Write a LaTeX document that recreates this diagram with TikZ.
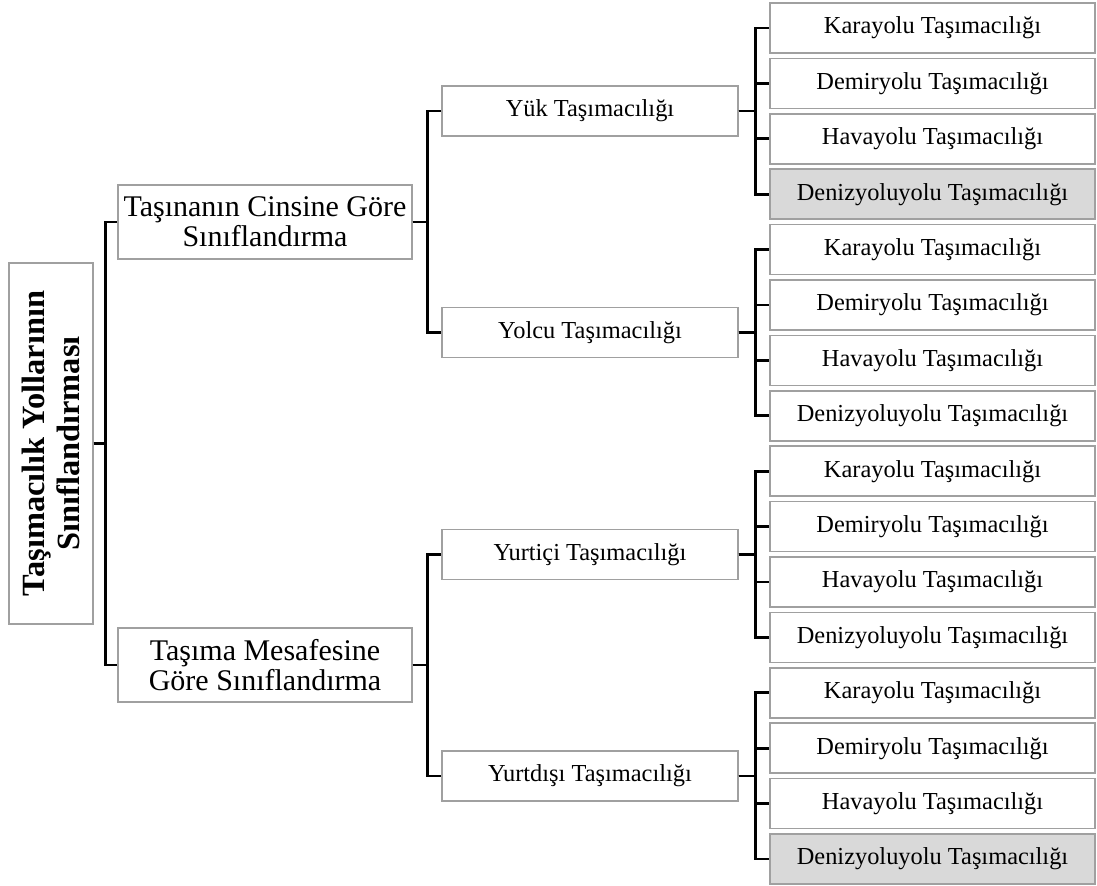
\documentclass[tikz,border=0pt]{standalone}
\usepackage{fontspec}
\setmainfont{Liberation Serif}
\definecolor{boxgray}{RGB}{160,160,160}
\definecolor{shade}{RGB}{217,217,217}
\begin{document}
\begin{tikzpicture}[x=0.75pt,y=-0.75pt,
  box/.style={draw=boxgray, line width=1.1pt, fill=white, inner sep=0pt, align=center},
  rootbox/.style={box, minimum width=63pt, minimum height=270.75pt},
  catbox/.style={box, minimum width=220.5pt, minimum height=55.5pt,
    font=\fontsize{22.5}{22.5}\selectfont},
  subbox/.style={box, minimum width=222pt, minimum height=37.5pt,
    font=\fontsize{18.3}{20}\selectfont},
  leaf/.style={box, minimum width=243.75pt, minimum height=37.5pt,
    font=\fontsize{18.3}{20}\selectfont},
  fill14/.style={fill=shade}, fill44/.style={fill=shade},
  link/.style={line width=2pt, black}]
\fill[white] (0,0) rectangle (1097,886);
\useasboundingbox (0,0) rectangle (1097,886);

% root
\node[rootbox] (root) at (51,443.5) {};
\node[rotate=90, align=center, font=\bfseries\fontsize{24.3}{26}\selectfont]
  (roottext) at (root.center) {Taşımacılık Yollarının\\Sınıflandırması};

% first level
\node[catbox] (c1) at (265,221.9) {Taşınanın Cinsine Göre\\Sınıflandırma};
\node[catbox] (c2) at (265,665.1) {Taşıma Mesafesine\\Göre Sınıflandırma};

% second level
\node[subbox] (g1) at (590,111.1) {Yük Taşımacılığı};
\node[subbox] (g2) at (590,332.7) {Yolcu Taşımacılığı};
\node[subbox] (g3) at (590,554.3) {Yurtiçi Taşımacılığı};
\node[subbox] (g4) at (590,775.9) {Yurtdışı Taşımacılığı};

% leaves
\foreach \k in {1,...,4}{
  \foreach \j/\t in {1/Karayolu,2/Demiryolu,3/Havayolu,4/Denizyoluyolu}{
    \pgfmathsetmacro\yy{28+55.4*(4*(\k-1)+\j-1)}
    \node[leaf, fill\k\j/.try] (l\k\j) at (932.5,\yy) {\t{} Taşımacılığı};
    \draw[link] (g\k.east) -- ++(17,0) |- (l\k\j.west);
  }
}

% connectors
\draw[link] (root.east) -- ++(12,0) |- (c1.west);
\draw[link] (root.east) -- ++(12,0) |- (c2.west);
\draw[link] (c1.east) -- ++(15,0) |- (g1.west);
\draw[link] (c1.east) -- ++(15,0) |- (g2.west);
\draw[link] (c2.east) -- ++(15,0) |- (g3.west);
\draw[link] (c2.east) -- ++(15,0) |- (g4.west);
\end{tikzpicture}
\end{document}
